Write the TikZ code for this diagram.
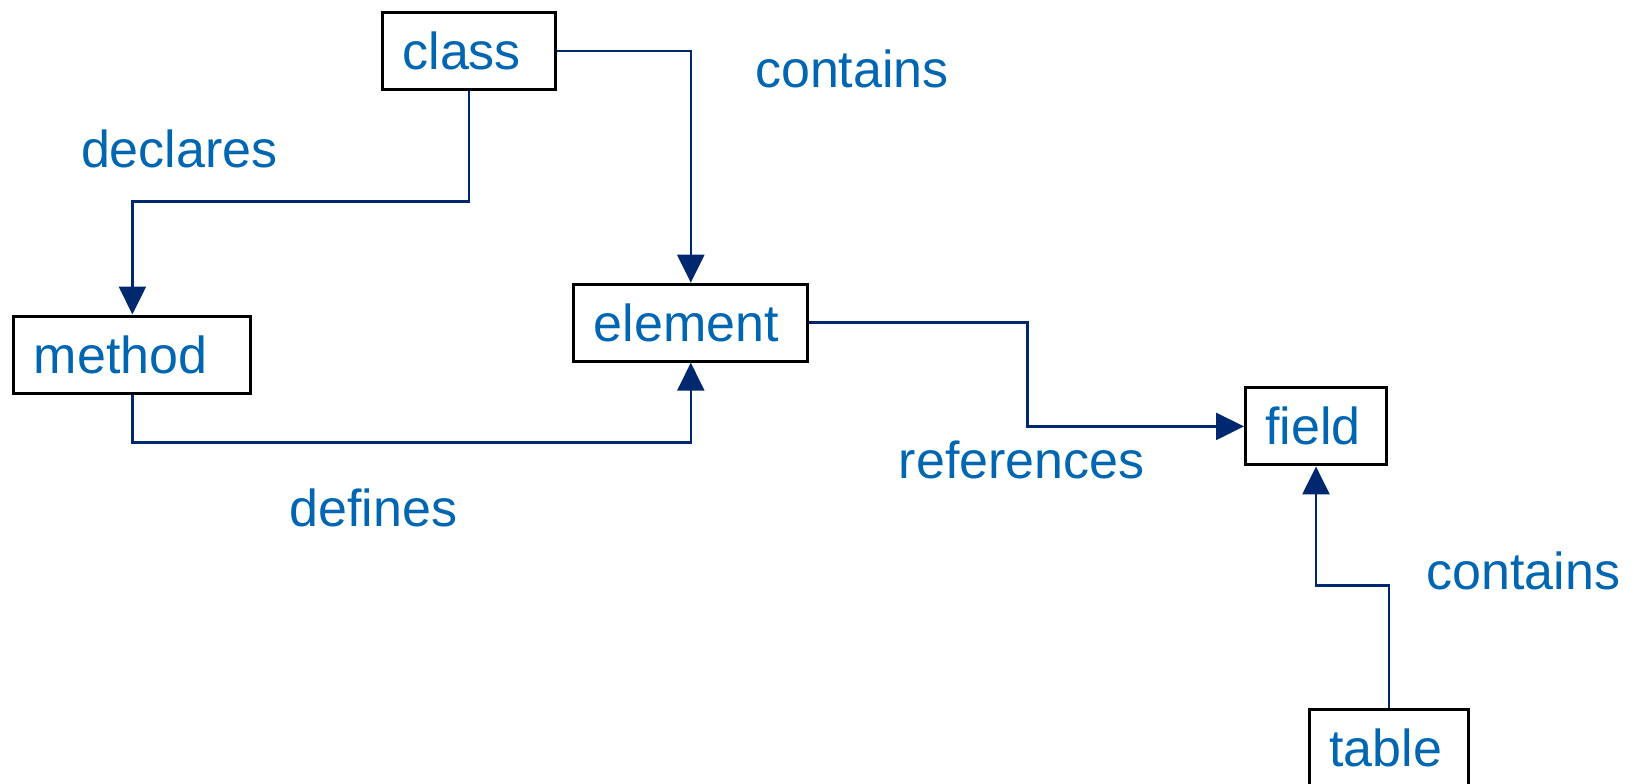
\documentclass[tikz,border=0pt]{standalone}
\usepackage{fontspec}
\setmainfont{Liberation Sans}
\usetikzlibrary{arrows.meta}
\definecolor{labelblue}{RGB}{0,102,178}
\definecolor{linknavy}{RGB}{0,40,110}
\begin{document}
\begin{tikzpicture}[x=1pt,y=-1pt,font=\fontsize{52}{62}\selectfont,
           box_style/.style={draw=black,line width=3pt,text=labelblue,minimum height=77pt,
                             inner xsep=20pt,inner ysep=0pt,align=left},
           label_style/.style={text=labelblue},
           link_style/.style={draw=linknavy,line width=2.5pt,-{Triangle[length=28pt,width=27pt]}}]
            \useasboundingbox (0,0) rectangle (1635,784);
            \node[box_style,text width=133pt] (class) at (469,51)  {class};
            \node[box_style,text width=197pt] (method) at (132.4,354.5)  {method};
            \node[box_style,text width=194pt] (element) at (690.8,322.7)  {element};
            \node[box_style,text width=101pt] (field) at (1316,426.4)  {field};
            \node[box_style,text width=119pt] (table) at (1389,748)  {table};
            \node[label_style] (contains_a) at (852,68.8)  {contains};
            \node[label_style] (declares) at (179.3,149)  {declares};
            \node[label_style] (defines) at (373.3,507.8)  {defines};
            \node[label_style] (references) at (1021.8,459.8)  {references};
            \node[label_style] (contains_b) at (1523.4,571.4)  {contains};
            \draw[link_style]  (class.east) -| (element.north);
            \draw[link_style]  (class.south) -- ++(0,110.5) -| (method.north);
            \draw[link_style]  (method.south) -- ++(0,48) -| (element.south);
            \draw[link_style]  (element.east) -- ++(218,0) |- (field.west);
            \draw[link_style]  (table.north) -- ++(0,-122.5) -| (field.south);
        \end{tikzpicture}
\end{document}
